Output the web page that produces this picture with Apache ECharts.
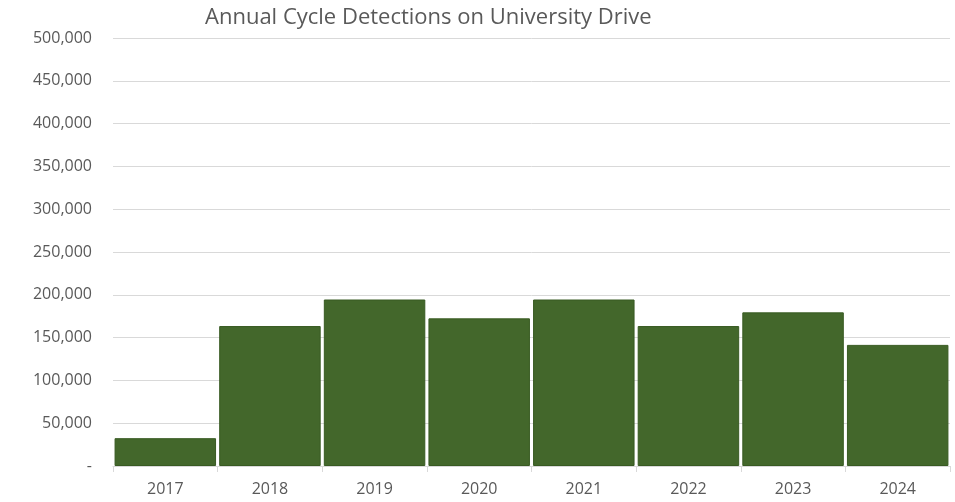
<!DOCTYPE html>
<html>
<head>
<meta charset="utf-8">
<script src="https://cdn.jsdelivr.net/npm/echarts@6/dist/echarts.min.js"></script>
<style>html,body{margin:0;padding:0;background:#fff;}#c{width:955px;height:502px;}</style>
</head>
<body>
<div id="c"></div>
<script>
const titleText = "Annual Cycle Detections on University Drive";
const years = ["2017", "2018", "2019", "2020", "2021", "2022", "2023", "2024"];
const detections = [32500, 163500, 194500, 172500, 194500, 163500, 179500, 141500];
const yMin = 0, yMax = 500000, yStep = 50000;

const chart = echarts.init(document.getElementById('c'));
chart.setOption({
  backgroundColor: '#ffffff',
  animation: false,
  title: {
    text: titleText,
    left: 200, top: 2,
    textStyle: { fontFamily: 'Open Sans', fontWeight: 'normal', fontSize: 22, color: '#595959' }
  },
  grid: { left: 113, right: 5, top: 38, bottom: 36, containLabel: false },
  xAxis: {
    type: 'category',
    data: years,
    axisLine: { lineStyle: { color: '#d9d9d9', width: 1 } },
    axisTick: { show: true, length: 6, lineStyle: { color: '#d9d9d9' } },
    axisLabel: { color: '#595959', fontSize: 16, fontFamily: 'Open Sans', margin: 15 }
  },
  yAxis: {
    type: 'value',
    min: yMin, max: yMax, interval: yStep,
    axisLine: { show: false },
    axisTick: { show: false },
    splitLine: { lineStyle: { color: '#d9d9d9', width: 1 } },
    axisLabel: {
      color: '#595959', fontSize: 16, fontFamily: 'Open Sans', margin: 21,
      formatter: v => v === 0 ? '-' : v.toLocaleString('en-US')
    }
  },
  series: [{
    type: 'bar',
    data: detections,
    barCategoryGap: '3%',
    itemStyle: { color: '#43672b', borderColor: '#385a22', borderWidth: 1 }
  }]
});
</script>
</body>
</html>
